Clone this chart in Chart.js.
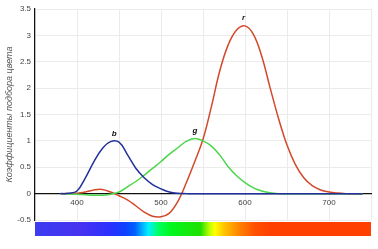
<!DOCTYPE html>
<html>
<head>
<meta charset="utf-8">
<script src="https://cdn.jsdelivr.net/npm/chart.js@4/dist/chart.umd.min.js"></script>
<style>
  html, body { margin: 0; padding: 0; background: #fff; }
  #wrap { width: 378px; height: 249px; position: relative; }
</style>
</head>
<body>
<div id="wrap"><canvas id="cmf-chart"></canvas></div>
<script>
// wavelengths, nm
var wavelengths = [380, 390, 400, 410, 420, 430, 440, 450, 460, 470, 480, 490, 500, 510, 520, 530, 540, 550, 560, 570, 580, 590, 600, 610, 620, 630, 640, 650, 660, 670, 680, 690, 700, 710, 720, 730, 740];

// colour matching functions
var bValues = [0, 0.005, 0.05, 0.3, 0.6, 0.85, 0.985, 0.975, 0.74, 0.48, 0.3, 0.17, 0.09, 0.03, 0.005, 0, 0, 0, 0, 0, 0, 0, 0, 0, 0, 0, 0, 0, 0, 0, 0, 0, 0, 0, 0, 0, 0];
var gValues = [0, -0.005, -0.01, -0.02, -0.03, -0.03, -0.01, 0.03, 0.13, 0.23, 0.35, 0.48, 0.61, 0.75, 0.87, 0.99, 1.045, 1.0, 0.9, 0.73, 0.51, 0.34, 0.21, 0.11, 0.05, 0.015, 0, 0, 0, 0, 0, 0, 0, 0, 0, 0, 0];
var rValues = [0, 0.003, 0.006, 0.03, 0.07, 0.08, 0.03, -0.04, -0.12, -0.23, -0.35, -0.43, -0.44, -0.37, -0.15, 0.2, 0.6, 1.03, 1.65, 2.33, 2.82, 3.1, 3.18, 3.02, 2.6, 2.0, 1.42, 0.92, 0.55, 0.3, 0.15, 0.07, 0.03, 0.01, 0, 0, 0];

var seriesNames = ['b', 'g', 'r'];
var seriesColors = ['#22309c', '#4cd64c', '#d4482a'];

var xTicks = [400, 500, 600, 700];
var yTitle = 'Коэффициенты подбора цвета';

// spectrum strip under the plot: wavelength -> colour
var spectrumNm = [350, 404, 440, 457, 469, 485, 497, 511, 547, 558, 564, 576, 594, 612, 630, 750];
var spectrumColors = ['#3c3cf0', '#4632f0', '#2a30ff', '#1040ff', '#0060ff', '#00f0ff', '#00ff60', '#00f820', '#20e000', '#c0ff00', '#ffff00', '#ffc000', '#ff8000', '#ff5000', '#ff4000', '#ff4000'];

function toPoints(values) {
  return values.map(function(v, i) { return {x: wavelengths[i], y: v}; });
}

var allSeries = [bValues, gValues, rValues];

// little letters above each peak
var peakLabels = {
  id: 'peakLabels',
  afterDatasetsDraw: function(chart) {
    var ctx = chart.ctx;
    var xs = chart.scales.x, ys = chart.scales.y;
    ctx.save();
    ctx.font = 'italic bold 8px "Liberation Sans", Arial, sans-serif';
    ctx.fillStyle = '#111';
    ctx.textAlign = 'center';
    ctx.textBaseline = 'bottom';
    allSeries.forEach(function(vals, s) {
      var m = 0;
      for (var i = 1; i < vals.length; i++) if (vals[i] > vals[m]) m = i;
      var peakX = wavelengths[m];
      if (m > 0 && m < vals.length - 1) {
        var a = vals[m - 1], b = vals[m], c = vals[m + 1];
        var d = a - 2 * b + c;
        if (d !== 0) peakX += (a - c) / (2 * d) * (wavelengths[m + 1] - wavelengths[m]);
      }
      ctx.fillText(seriesNames[s], xs.getPixelForValue(peakX), ys.getPixelForValue(vals[m]) - 4);
    });
    ctx.restore();
  }
};

var spectrumBar = {
  id: 'spectrumBar',
  afterDraw: function(chart) {
    var ctx = chart.ctx;
    var xs = chart.scales.x, ys = chart.scales.y;
    var left = chart.chartArea.left, right = chart.chartArea.right;
    var top = ys.getPixelForValue(ys.min) + 2;
    var grad = ctx.createLinearGradient(left, 0, right, 0);
    spectrumNm.forEach(function(nm, i) {
      var p = (xs.getPixelForValue(nm) - left) / (right - left);
      grad.addColorStop(Math.min(1, Math.max(0, p)), spectrumColors[i]);
    });
    ctx.save();
    ctx.fillStyle = grad;
    ctx.fillRect(left, top, right - left, 14);
    ctx.restore();
  }
};

var el = document.getElementById('cmf-chart');
new Chart(el, {
  type: 'line',
  data: {
    datasets: allSeries.map(function(vals, s) {
      return {
        label: seriesNames[s],
        data: toPoints(vals),
        borderColor: seriesColors[s],
        borderWidth: 1.5,
        pointRadius: 0,
        fill: false,
        tension: 0.4
      };
    })
  },
  options: {
    responsive: true,
    maintainAspectRatio: false,
    animation: false,
    layout: {padding: {top: 9, right: 7, bottom: 29, left: 0}},
    plugins: {
      legend: {display: false},
      tooltip: {enabled: false}
    },
    scales: {
      x: {
        type: 'linear',
        position: {y: 0},
        min: 350,
        max: 750,
        grid: {color: '#ebebeb', drawTicks: false},
        border: {color: '#111', width: 1.2},
        ticks: {
          stepSize: 50,
          padding: 4,
          color: '#444',
          font: {family: '"Liberation Sans", Arial, sans-serif', size: 8},
          callback: function(v) { return xTicks.indexOf(v) >= 0 ? String(v) : ''; }
        }
      },
      y: {
        min: -0.5,
        max: 3.5,
        afterFit: function(scale) { scale.width = 35; },
        grid: {color: '#ebebeb', drawTicks: false},
        border: {color: '#111', width: 1.2},
        ticks: {
          stepSize: 0.5,
          padding: 4,
          color: '#444',
          font: {family: '"Liberation Sans", Arial, sans-serif', size: 8},
          callback: function(v) { return String(v); }
        },
        title: {
          display: true,
          text: yTitle,
          color: '#555',
          padding: {top: 4, bottom: 0},
          font: {family: '"Liberation Sans", Arial, sans-serif', size: 9, style: 'italic'}
        }
      }
    }
  },
  plugins: [peakLabels, spectrumBar]
});
</script>
</body>
</html>
